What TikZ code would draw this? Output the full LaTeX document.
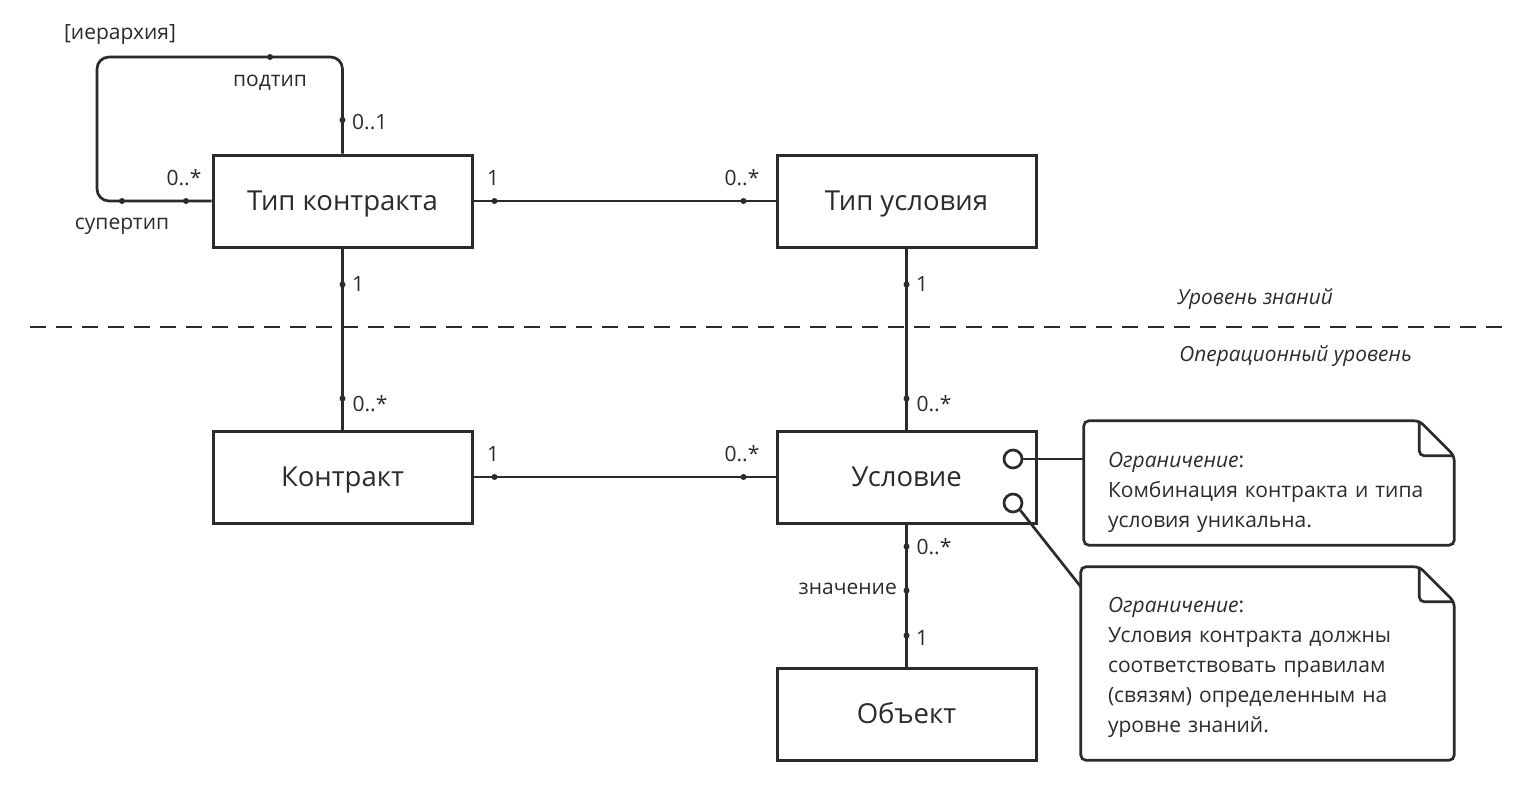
\documentclass[tikz,border=0pt]{standalone}
\usepackage{fontspec}
\setmainfont{Open Sans}
\usetikzlibrary{calc}
\definecolor{ink}{HTML}{2B2B2B}
\begin{document}
\begin{tikzpicture}[x=1pt,y=-1pt,
  cls/.style={draw=ink,line width=3pt,minimum width=259pt,minimum height=92pt,inner sep=0pt,text=ink,font=\fontsize{27.5}{32}\selectfont,text height=19.6pt,text depth=0pt},
  conn/.style={draw=ink,line width=2.7pt},
  lbl/.style={text=ink,font=\fontsize{21}{24}\selectfont,inner sep=0pt},
  ilbl/.style={text=ink,font=\fontsize{20.8}{24}\selectfont\itshape,inner sep=0pt},
  mdot/.style={fill=ink,circle,inner sep=0pt,minimum size=6pt},
  port/.style={draw=ink,line width=2.7pt,fill=white,circle,inner sep=0pt,minimum size=18pt},
  noteshape/.style={inner sep=0pt},
  notetext/.style={inner sep=0pt,text=ink,align=left,anchor=north west,text width=330pt,font=\fontsize{21}{30}\selectfont},
  noteline/.style={draw=ink,line width=2.7pt,rounded corners=5pt}
]
\useasboundingbox (0,0) rectangle (1533,795);

% classes
\node[cls] (tk) at (342.5,201) {Тип контракта};
\node[cls] (tu) at (906.5,201) {Тип условия};
\node[cls] (k)  at (342.5,477) {Контракт};
\node[cls] (u)  at (906.5,477) {Условие};
\node[cls] (o)  at (906.5,714) {Объект};

% self association
\draw[conn,rounded corners=12pt] (tk.north) |- (97,57) |- (tk.west);
\node[mdot] at (270,57) {};
\node[mdot] at (342.5,120) {};
\node[mdot] at (122,201) {};
\node[mdot] at (186,201) {};
\node[lbl] (hier) at (120,35) {[иерархия]};
\node[lbl] (sub) at (270,83) {подтип};
\node[lbl,anchor=west] (m01) at (352,122) {0..1};
\node[lbl] (m0s) at (184,178) {0..*};
\node[lbl] (sup) at (122,226) {супертип};

% tk - tu
\draw[conn] (tk.east) -- (tu.west);
\node[mdot] at ($(tk.east)+(21,0)$) {};
\node[mdot] at ($(tu.west)+(-32,0)$) {};
\node[lbl] at (493,178) {1};
\node[lbl] at (742,178) {0..*};

% tk - k
\draw[conn] (tk.south) -- (k.north);
\node[mdot] at ($(tk.south)+(0,36)$) {};
\node[mdot] at ($(k.north)+(0,-31)$) {};
\node[lbl] at (358,284) {1};
\node[lbl] at (370,404) {0..*};

% tu - u
\draw[conn] (tu.south) -- (u.north);
\node[mdot] at ($(tu.south)+(0,36)$) {};
\node[mdot] at ($(u.north)+(0,-31)$) {};
\node[lbl] at (922,284) {1};
\node[lbl] at (934,404) {0..*};

% level separator
\draw[draw=ink,line width=2.7pt,dash pattern=on 16pt off 10pt] (30,327) -- (1508,327);
\node[ilbl,anchor=east] at (1333,299) {Уровень знаний};
\node[ilbl,anchor=east] at (1412,356) {Операционный уровень};

% k - u
\draw[conn] (k.east) -- (u.west);
\node[mdot] at ($(k.east)+(21,0)$) {};
\node[mdot] at ($(u.west)+(-32,0)$) {};
\node[lbl] at (493,454) {1};
\node[lbl] at (742,454) {0..*};

% u - o
\draw[conn] (u.south) -- (o.north);
\node[mdot] at ($(u.south)+(0,22)$) {};
\node[mdot] at ($(u.south)+(0,66)$) {};
\node[mdot] at ($(o.north)+(0,-31)$) {};
\node[lbl] at (934,547) {0..*};
\node[lbl,anchor=east] at (897,589) {значение};
\node[lbl] at (922,638) {1};

% notes
\node[noteshape,minimum width=370pt,minimum height=124pt] (n1) at (1269,483) {};
\draw[noteline] (n1.south west) -- (n1.north west) -- ($(n1.north east)+(-35,0)$) -- ($(n1.north east)+(0,35)$) -- (n1.south east) -- cycle;
\draw[noteline] ($(n1.north east)+(-35,0)$) |- ($(n1.north east)+(0,35)$);
\node[notetext] (t1) at ($(n1.north west)+(24,31)$)
  {{\itshape Ограничение}:\\Комбинация контракта и типа\\условия уникальна.};

\node[noteshape,minimum width=373pt,minimum height=193pt] (n2) at (1267.5,663.5) {};
\draw[noteline] (n2.south west) -- (n2.north west) -- ($(n2.north east)+(-35,0)$) -- ($(n2.north east)+(0,35)$) -- (n2.south east) -- cycle;
\draw[noteline] ($(n2.north east)+(-35,0)$) |- ($(n2.north east)+(0,35)$);
\node[notetext] (t2) at ($(n2.north west)+(27,30)$)
  {{\itshape Ограничение}:\\Условия контракта должны\\соответствовать правилам\\(связям) определенным на\\уровне знаний.};

% ports
\node[port] (c1) at (1013,459) {};
\node[port] (c2) at (1013,503) {};
\draw[conn] (c1.east) -- (c1.east -| n1.west);
\draw[conn] (c2.south east) -- ($(n2.north west)+(0,20)$);
\end{tikzpicture}
\end{document}
